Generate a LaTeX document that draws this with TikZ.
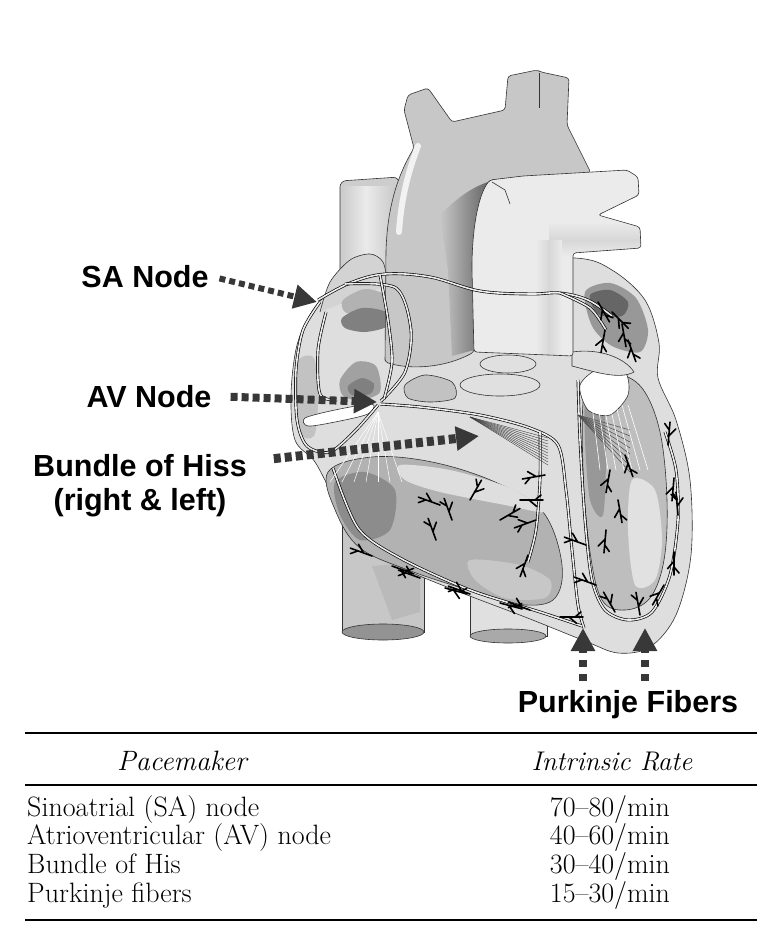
\documentclass[tikz,border=0pt]{standalone}
\usepackage{fontspec}
\newfontfamily\etichetta{Liberation Sans}
\usetikzlibrary{arrows.meta}
\definecolor{vaso}{gray}{0.78}
\definecolor{vasochiaro}{gray}{0.92}
\definecolor{parete}{gray}{0.87}
\definecolor{cavita}{gray}{0.70}
\definecolor{scuro}{gray}{0.50}
\definecolor{puntini}{gray}{0.22}

\begin{document}
\begin{tikzpicture}[x=1pt,y=-1pt,
    contorno/.style={draw=black!80,line width=0.6pt},
    via/.style={draw=black,line width=0.65pt,double=white!85!gray,double distance=1.6pt},
    fibra/.style={draw=black,line width=1.6pt,line cap=round},
    freccia/.style={draw=puntini,line width=8pt,dash pattern=on 7pt off 4pt,-{Triangle[length=23pt,width=23pt]}},
    etic/.style={font=\etichetta\bfseries\fontsize{30.5}{31}\selectfont,anchor=base,inner sep=1pt},
    riga/.style={font=\fontsize{28}{29}\selectfont,anchor=base west,inner sep=0pt},
    tasso/.style={font=\fontsize{28}{29}\selectfont,anchor=base,inner sep=0pt}]

    \useasboundingbox (0,0) rectangle (781,943);

    % Vene cave e aorta discendente
    \filldraw[contorno,fill=vaso!90!white,rounded corners=6pt] (340,330) -- (340,181) -- (399,177) -- (399,330);
    \shade[left color=vaso!90!white,right color=vasochiaro] (342,186) rectangle (366,300);
    \shade[left color=vasochiaro,right color=vaso] (366,186) rectangle (397,300);
    \filldraw[contorno,fill=vaso] (342,520) -- (342,632) -- (424,632) -- (424,520);
    \fill[cavita!90!white] (372,566) -- (420,562) -- (420,612) -- (392,620) -- cycle;
    \filldraw[contorno,fill=scuro!85!white] (383,632) ellipse (41 and 8);
    \filldraw[contorno,fill=vasochiaro!70!vaso] (470,570) -- (470,636) -- (547,636) -- (547,570);
    \filldraw[contorno,fill=vaso!85!black] (508,636) ellipse (38 and 7);

    % Cuore
    \filldraw[contorno,fill=parete] plot[smooth cycle,tension=0.55] coordinates {(395,272) (360,276) (333,290) (313,310) (297,345) (291,395) (295,440) (315,462) (335,500) (357,538) (398,566) (457,591) (525,617) (585,641) (618,653) (650,647) (676,615) (691,555) (690,480) (676,420) (658,378) (659,343) (645,300) (612,270) (575,258) (480,262)};
    \filldraw[contorno,fill=parete!95!black] plot[smooth] coordinates {(320,312) (330,282) (350,260) (370,254) (383,262) (388,285)};

    % Atrio destro
    \fill[cavita] plot[smooth cycle] coordinates {(343,300) (365,289) (388,296) (390,310) (365,316) (345,312)};
    \fill[scuro] plot[smooth cycle] coordinates {(342,318) (362,308) (386,312) (388,326) (365,332) (345,328)};
    \fill[cavita!90!black] plot[smooth cycle] coordinates {(340,380) (356,362) (376,366) (380,392) (360,400) (343,396)};
    \fill[scuro] plot[smooth cycle] coordinates {(348,386) (362,378) (374,384) (370,394) (352,395)};
    \fill[cavita!80!white] plot[smooth cycle] coordinates {(296,365) (314,358) (318,400) (314,436) (298,430)};
    \filldraw[contorno,fill=white] plot[smooth cycle] coordinates {(305,418) (335,410) (372,404) (368,414) (335,422) (308,426)};

    % Ventricolo destro
    \filldraw[contorno,fill=cavita] plot[smooth cycle,tension=0.6] coordinates {(328,472) (372,457) (432,462) (495,482) (543,512) (562,565) (553,600) (515,604) (468,590) (408,570) (360,548) (336,512)};
    \fill[scuro!90!white] plot[smooth cycle] coordinates {(335,482) (365,472) (395,490) (390,530) (360,540) (340,515)};
    \fill[parete] plot[smooth cycle] coordinates {(400,465) (450,470) (510,488) (545,512) (505,505) (440,492) (405,480)};
    \fill[vaso] plot[smooth cycle] coordinates {(470,560) (520,565) (550,580) (545,598) (505,598) (475,580)};

    % Ventricolo e atrio sinistro
    \filldraw[contorno,fill=cavita!85!white] plot[smooth cycle,tension=0.6] coordinates {(586,384) (615,374) (642,388) (660,432) (667,500) (664,560) (650,598) (625,610) (602,600) (590,552) (583,470)};
    \fill[cavita!85!black] plot[smooth cycle] coordinates {(586,395) (602,392) (606,450) (603,515) (590,500) (585,440)};
    \fill[parete!90!white] plot[smooth cycle] coordinates {(632,480) (655,490) (662,540) (655,580) (635,585) (628,530)};
    \filldraw[contorno,fill=white] plot[smooth cycle] coordinates {(580,385) (600,368) (625,372) (628,395) (610,415) (588,410)};
    \filldraw[contorno,fill=parete] (572,352) .. controls (600,348) and (625,358) .. (634,372) .. controls (620,380) and (595,372) .. (572,366) -- cycle;
    \fill[cavita!85!black] plot[smooth cycle] coordinates {(585,292) (610,283) (636,298) (648,330) (640,352) (612,346) (592,326)};
    \fill[scuro!80!black] plot[smooth cycle] coordinates {(590,295) (610,290) (628,302) (622,316) (598,314)};

    % Valvole
    \filldraw[contorno,fill=cavita!80!white] plot[smooth cycle] coordinates {(405,385) (425,375) (452,382) (455,398) (430,402) (408,398)};
    \filldraw[contorno,fill=parete!95!white] (500,385) ellipse (40 and 11);
    \filldraw[contorno,fill=parete!95!white] (508,364) ellipse (28 and 9);

    % Aorta
    \filldraw[contorno,fill=vaso,rounded corners=3pt] (385,362) -- (386,250) .. controls (388,205) and (398,175) .. (414,148) -- (404,110) -- (408,95) -- (428,88) -- (452,122) -- (505,110) -- (508,76) -- (537,70) -- (541,72) -- (569,78) -- (567,125) -- (591,173) -- (490,180) .. controls (478,195) and (472,230) .. (472,270) -- (474,352) .. controls (445,368) and (410,370) .. (385,362) -- cycle;
    \draw[contorno] (539,73) -- (539,108);
    \draw[white!90!gray,line width=6pt,line cap=round] (418,146) .. controls (408,172) and (401,200) .. (399,232);
    \shade[left color=vaso,right color=scuro!80!black] (440,215) .. controls (455,200) and (470,188) .. (488,182) .. controls (478,200) and (472,235) .. (472,270) -- (474,350) -- (452,356) -- (448,270) -- cycle;

    % Arteria polmonare
    \fill[vasochiaro,rounded corners=3pt] (474,352) -- (472,270) .. controls (472,230) and (478,195) .. (490,180) -- (523,176) -- (627,170) -- (638,177) -- (639,195) -- (598,215) -- (640,227) -- (641,248) -- (573,253) -- (573,356) -- cycle;
    \begin{scope}
        \clip[rounded corners=3pt] (474,352) -- (472,270) .. controls (472,230) and (478,195) .. (490,180) -- (523,176) -- (627,170) -- (638,177) -- (639,195) -- (598,215) -- (640,227) -- (641,248) -- (573,253) -- (573,356) -- cycle;
        \shade[top color=vasochiaro,bottom color=vaso!55!vasochiaro] (549,222) rectangle (645,240);
        \shade[top color=vaso!55!vasochiaro,bottom color=vasochiaro] (549,240) rectangle (645,256);
        \shade[left color=vasochiaro,right color=vaso!55!vasochiaro] (536,240) rectangle (549,360);
        \shade[left color=vaso!55!vasochiaro,right color=vasochiaro] (549,240) rectangle (562,360);
    \end{scope}
    \draw[contorno,rounded corners=3pt] (474,352) -- (472,270) .. controls (472,230) and (478,195) .. (490,180) -- (523,176) -- (627,170) -- (638,177) -- (639,195) -- (598,215) -- (640,227) -- (641,248) -- (573,253) -- (573,356) -- cycle;
    \draw[contorno] (492,182) -- (505,190) -- (510,204);

    % Vie di conduzione
    \draw[via] plot[smooth,tension=0.6] coordinates {(318,300) (350,283) (385,274) (430,277) (480,291) (530,294) (560,293) (588,300) (612,316)};
    \draw[via] plot[smooth] coordinates {(560,293) (590,308) (606,330)};
    \draw[via] plot[smooth] coordinates {(345,284) (396,288) (411,330) (405,372) (381,401)};
    \draw[via] plot[smooth] coordinates {(380,275) (388,320) (392,362) (384,399)};
    \draw[via] plot[smooth] coordinates {(320,302) (303,330) (296,370) (297,420) (307,446) (330,452) (356,430) (378,405)};
    \draw[via] plot[smooth] coordinates {(326,312) (318,350) (320,394) (337,400)};
    \draw[via] plot[smooth] coordinates {(380,404) (420,407) (480,415) (530,428) (558,445) (566,490) (572,550) (578,605) (584,628)};
    \draw[via] plot[smooth] coordinates {(540,432) (540,480) (536,530) (528,562)};
    \draw[via] plot[smooth] coordinates {(578,380) (580,440) (585,520) (592,580) (605,610) (628,620) (652,612) (670,575) (678,520) (676,470) (665,432)};
    \draw[via] plot[smooth] coordinates {(333,468) (358,528) (400,558) (470,590) (540,612) (582,626)};
    \foreach \k in {0,...,9}
        \draw[black!75,line width=0.4pt] (470,417) -- (548,438+3*\k);
    \foreach \k in {0,...,7}
        \draw[black!70,line width=0.5pt] (578,415) -- (630,430+6*\k);
    \foreach \k in {0,...,6}
        \draw[white,line width=0.6pt] (592+6*\k,405) -- (600+8*\k,470);
    \foreach \k in {0,...,6}
        \draw[white,line width=0.5pt] (378,412) -- (330+12*\k,482);

    % Fibre di Purkinje
    \foreach \x/\y/\a in {372/556/200, 392/566/20, 420/578/200, 445/588/15, 470/594/200, 500/603/15, 530/610/200, 560/617/0, 436/540/250, 452/520/250, 470/500/300, 440/505/200, 500/520/330, 520/500/0, 528/555/110, 536/520/160, 545/475/170, 668/445/275, 674/478/95, 678/515/265, 674/552/90, 664/585/120, 640/615/260, 615/612/240, 596/585/200, 586/545/200, 610/470/100, 618/500/80, 606/530/95, 625/455/70, 598/302/60, 612/312/45, 622/324/80, 605/330/100, 628/340/70}
        \draw[fibra] (\x,\y) -- ++(\a:23) (\x,\y) ++(\a:9) -- ++(\a+40:10) (\x,\y) ++(\a:15) -- ++(\a-40:8);

    % Etichette
    \node[etic] (sa) at (145,287) {SA Node};
    \node[etic] (av) at (149,407) {AV Node};
    \node[etic,anchor=north,align=center] (his) at (140,453) {Bundle of Hiss\\[3pt](right \& left)};
    \node[etic] (pf) at (628,712) {Purkinje Fibers};
    \coordinate (saend) at (317,302);
    \coordinate (avend) at (377,402);
    \coordinate (hisend) at (479,436);
    \coordinate (pf1) at (583,628);
    \coordinate (pf2) at (645,628);
    \draw[freccia,line width=6pt,dash pattern=on 6pt off 4pt,shorten <=10pt] (sa.east) -- (saend);
    \draw[freccia,shorten <=18pt] (av.east) -- (avend);
    \draw[freccia,line width=9pt,shorten <=26pt] ([yshift=24pt]his.east) -- (hisend);
    \draw[freccia,dash pattern=on 7pt off 7pt,shorten <=8pt] (pf.north -| pf1) -- (pf1);
    \draw[freccia,dash pattern=on 7pt off 7pt,shorten <=8pt] (pf.north -| pf2) -- (pf2);

    % Tabella
    \draw[line width=1.4pt] (25,733) -- (757,733);
    \draw[line width=1.4pt] (25,785) -- (757,785);
    \draw[line width=1.4pt] (25,920) -- (757,920);
    \node[riga,anchor=base,font=\fontsize{28}{29}\selectfont\itshape] (pm) at (182,770) {Pacemaker};
    \node[riga,anchor=base,font=\fontsize{27}{29}\selectfont\itshape] (ir) at (612,770) {Intrinsic Rate};
    \node[riga] (r1) at (27,816) {Sinoatrial (SA) node};
    \node[riga] (r2) at (27,844) {Atrioventricular (AV) node};
    \node[riga] (r3) at (27,873) {Bundle of His};
    \node[riga] (r4) at (27,902) {Purkinje fibers};
    \node[tasso] (t1) at (610,816) {70--80/min};
    \node[tasso] (t2) at (610,844) {40--60/min};
    \node[tasso] (t3) at (610,873) {30--40/min};
    \node[tasso] (t4) at (610,902) {15--30/min};
\end{tikzpicture}
\end{document}
